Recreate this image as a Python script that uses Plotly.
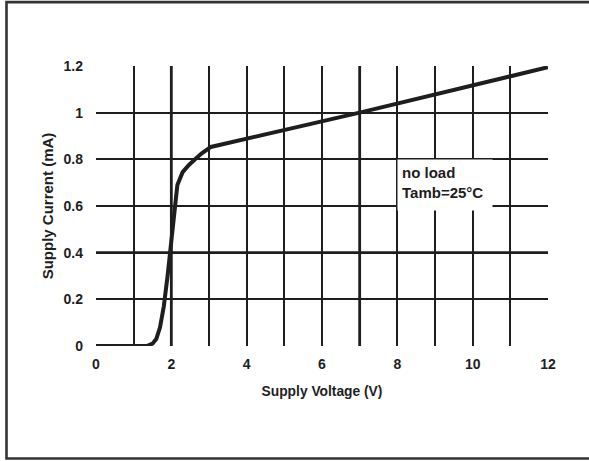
import plotly.graph_objects as go

# Data
voltage = [0, 1.35, 1.5, 1.6, 1.7, 1.8, 1.9, 2.0, 2.1, 2.16, 2.3, 2.46, 2.63, 2.8, 3.05, 7.0, 12.0]
current = [0, 0, 0.01, 0.03, 0.08, 0.17, 0.30, 0.46, 0.62, 0.69, 0.745, 0.775, 0.80, 0.825, 0.853, 1.0, 1.195]

x_ticks = [0, 2, 4, 6, 8, 10, 12]
y_ticks = [0, 0.2, 0.4, 0.6, 0.8, 1, 1.2]
y_tick_text = ["0", "0.2", "0.4", "0.6", "0.8", "1", "1.2"]
x_emph = [2, 7]
y_emph = [0.4]

ink = "#1e1e1e"
font_family = "Liberation Sans, Arial, sans-serif"

fig = go.Figure()
fig.add_trace(go.Scatter(x=voltage, y=current, mode="lines",
                         line=dict(color=ink, width=4), showlegend=False,
                         hoverinfo="skip"))

shapes = []
for xv in x_emph:
    shapes.append(dict(type="line", xref="x", yref="paper", x0=xv, x1=xv, y0=0, y1=1,
                       line=dict(color=ink, width=2.8), layer="below"))
for yv in y_emph:
    shapes.append(dict(type="line", xref="paper", yref="y", x0=0, x1=1, y0=yv, y1=yv,
                       line=dict(color=ink, width=2.8), layer="below"))
# outer frame
shapes.append(dict(type="rect", xref="paper", yref="paper", x0=-0.198, x1=1.2,
                   y0=-0.402, y1=1.228, line=dict(color="#333333", width=2.6),
                   fillcolor="rgba(0,0,0,0)"))

fig.update_layout(
    width=589, height=461,
    margin=dict(l=96, r=41, t=66, b=115),
    paper_bgcolor="white", plot_bgcolor="white",
    font=dict(family=font_family, color=ink, size=13, weight="bold"),
    shapes=shapes,
    annotations=[dict(x=8, y=0.8, xref="x", yref="y", xanchor="left", yanchor="top",
                      text="no load<br>Tamb=25°C", showarrow=False, align="left",
                      valign="top", bgcolor="white", borderpad=4, width=86, height=42,
                      font=dict(size=15, family=font_family, weight="bold", color=ink))],
    xaxis=dict(range=[0, 12], tickmode="array", tickvals=x_ticks,
               ticktext=[str(v) for v in x_ticks],
               showgrid=True, gridcolor=ink, gridwidth=1.6,
               minor=dict(dtick=1, tick0=0, showgrid=True, gridcolor=ink, gridwidth=1.6),
               zeroline=False, showline=False, ticks="", ticklabelstandoff=8,
               tickfont=dict(size=14, weight="bold"),
               title=dict(text="Supply Voltage (V)", standoff=15,
                          font=dict(size=13.8, weight="bold"))),
    yaxis=dict(range=[0, 1.2], tickmode="array", tickvals=y_ticks, ticktext=y_tick_text,
               showgrid=True, gridcolor=ink, gridwidth=1.6,
               zeroline=False, showline=False, ticks="", ticklabelstandoff=12,
               tickfont=dict(size=14, weight="bold"),
               title=dict(text="Supply Current (mA)", standoff=6,
                          font=dict(size=15, weight="bold"))),
)

fig.write_html("out.html", config={"displayModeBar": False},
               post_script="document.body.style.margin='0';document.body.style.overflow='hidden';")
